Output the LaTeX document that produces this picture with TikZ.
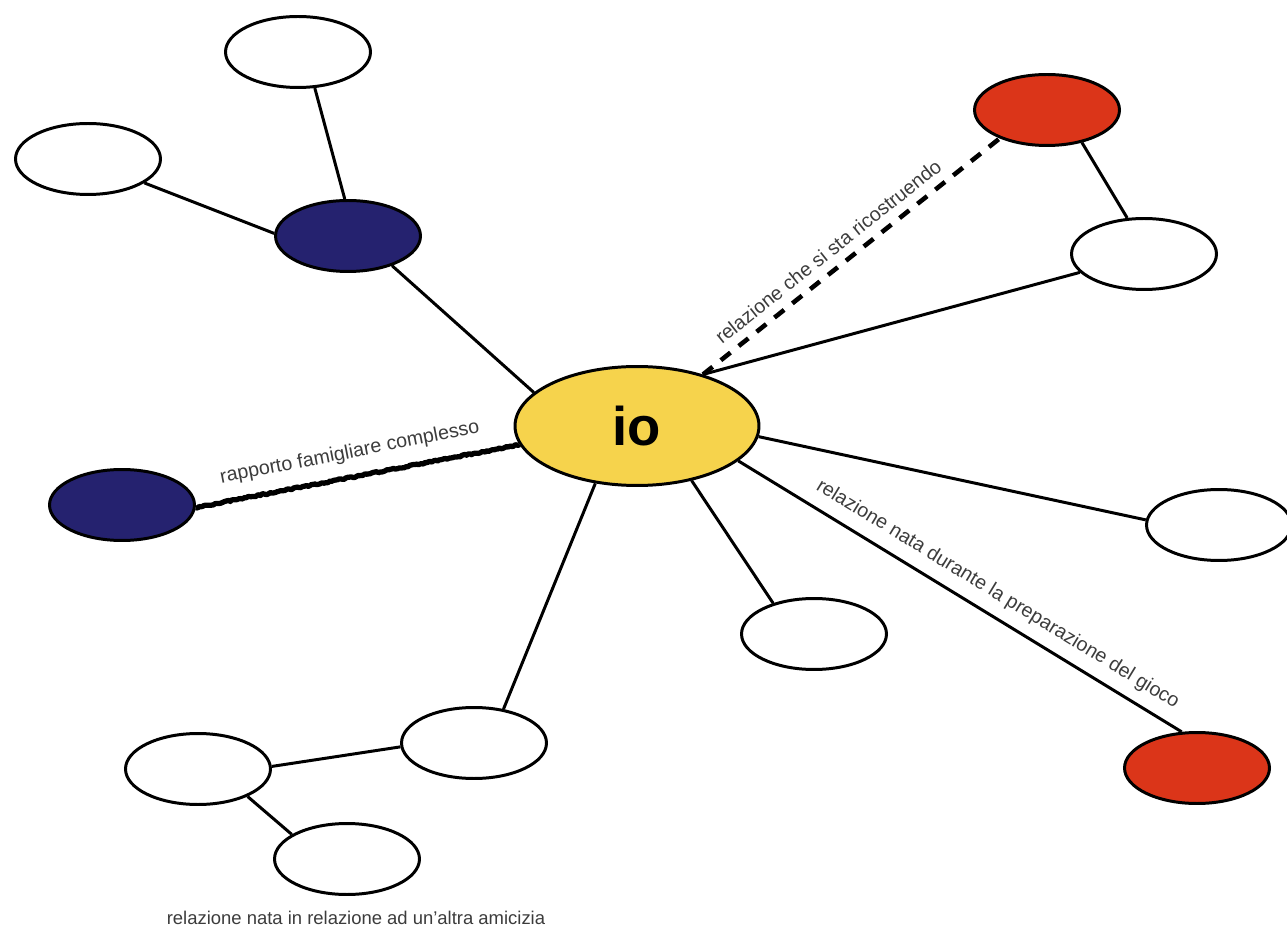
\documentclass[tikz,border=0pt]{standalone}
\usepackage{fontspec}
\setmainfont{Liberation Sans}
\usetikzlibrary{shapes.geometric, decorations.pathmorphing}
\definecolor{ioyellow}{HTML}{F6D34C}
\definecolor{navyblue}{HTML}{25226F}
\definecolor{brickred}{HTML}{DB3519}
\definecolor{labelgray}{HTML}{3C3C3C}

\begin{document}
\begin{tikzpicture}[x=0.02cm, y=-0.02cm,
            bubble/.style={draw, ellipse, line width=1.7pt, fill=white, minimum width=2.9cm, minimum height=1.42cm, inner sep=0pt},
            link/.style={line width=1.7pt},
            rough/.style={line width=3pt, line join=round, decorate, decoration={random steps, segment length=1pt, amplitude=0.45pt}},
            broken/.style={line width=2.6pt, dash pattern=on 7pt off 6pt},
            lbl/.style={text=labelgray, font=\fontsize{11.2}{13}\selectfont, inner sep=0pt}]
    \useasboundingbox (0,0) rectangle (1287,928);
    % Nodes
    \node[bubble, fill=ioyellow, minimum width=4.88cm, minimum height=2.38cm, font=\bfseries\fontsize{31}{36}\selectfont] (io) at (637,426) {io};
    \node[bubble] (topleft) at (298,52) {};
    \node[bubble] (farleft) at (88,159) {};
    \node[bubble, fill=navyblue] (family1) at (348,236) {};
    \node[bubble, fill=navyblue] (family2) at (122,505) {};
    \node[bubble, fill=brickred] (rebuild) at (1047,110) {};
    \node[bubble] (topright) at (1144,254) {};
    \node[bubble] (right) at (1219,525) {};
    \node[bubble] (below) at (814,634) {};
    \node[bubble, fill=brickred] (game) at (1197,768) {};
    \node[bubble] (friend) at (474,743) {};
    \node[bubble] (friend2) at (198,769) {};
    \node[bubble] (friend3) at (347,859) {};
    \node[lbl, font=\fontsize{10.5}{12}\selectfont] (note) at (356,918) {relazione nata in relazione ad un'altra amicizia};

    % Edges
    \draw[link] (topleft.-65) edge (family1.95);
    \draw[link] (farleft.-23) edge (family1.178);
    \draw[link] (family1.-34) edge (io.162);
    \draw (family2.-2)
        edge[rough] node[lbl, sloped, above=7pt, pos=0.49] {rapporto famigliare complesso}
        (io.189);
    \draw (io.38)
        edge[broken] node[lbl, sloped, above=5pt, pos=0.46] {relazione che si sta ricostruendo}
        (rebuild.211);
    \draw[link] (io.38) edge (topright.196);
    \draw[link] (rebuild.-43) edge (topright.115);
    \draw[link] (io.-5) edge (right.176);
    \draw (io.-19)
        edge[link] node[lbl, sloped, above=6pt, pos=0.56] {relazione nata durante la preparazione del gioco}
        (game.113);
    \draw[link] (io.-45) edge (below.143);
    \draw[link] (io.234) edge (friend.49);
    \draw[link] (friend.183) edge (friend2.2);
    \draw[link] (friend2.-29) edge (friend3.156);
\end{tikzpicture}
\end{document}
